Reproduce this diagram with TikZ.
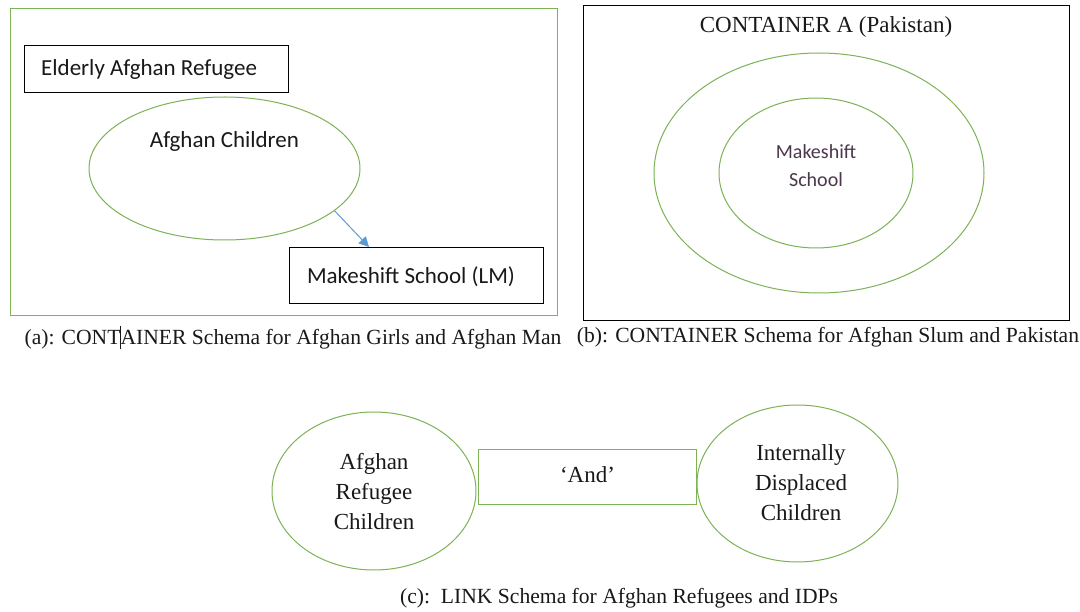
\documentclass[tikz,border=0pt]{standalone}
\usepackage{fontspec}
\setmainfont{Liberation Serif}
\newfontfamily\calib{Carlito}
\usetikzlibrary{shapes.geometric,arrows.meta,calc}
\definecolor{ogreen}{RGB}{125,178,85}
\definecolor{oblue}{RGB}{91,155,213}
\definecolor{txt}{RGB}{25,25,25}
\definecolor{plum}{RGB}{75,55,75}
\begin{document}
\begin{tikzpicture}[x=1pt,y=-1pt,
  gbox/.style={draw=ogreen,line width=1.1pt},
  kbox/.style={draw=black,line width=1.2pt},
  gell/.style={draw=ogreen,line width=1pt,ellipse,inner sep=0pt},
  sanstext/.style={font=\calib\fontsize{23}{28}\selectfont,text=txt,inner sep=0pt},
  seriftext/.style={font=\fontsize{23}{30}\selectfont,text=txt,inner sep=0pt,align=center},
  captext/.style={font=\fontsize{21.6}{25}\selectfont,text=txt,inner sep=0pt},
  link/.style={draw=oblue,line width=1pt,-{Triangle[length=10pt,width=10pt]}}]
\useasboundingbox[fill=white] (0,0) rectangle (1080,612);
% ---------- panel (a)
\node[gbox,minimum width=547pt,minimum height=307pt,anchor=north west] (pa) at (10,8) {};
\node[kbox,minimum width=264pt,minimum height=47pt,anchor=north west] (ear) at (24,45) {};
\node[sanstext,anchor=west] (eartxt) at (41,69) {Elderly Afghan Refugee};
\node[gell,minimum width=271pt,minimum height=143pt] (ac) at (224.5,168.5) {};
\node[sanstext] (actxt) at (224.5,141) {Afghan Children};
\node[kbox,minimum width=254pt,minimum height=56pt,anchor=north west] (ms) at (289,247) {};
\node[sanstext] (mstxt) at (411,277) {Makeshift School (LM)};
\draw[link] (ac.-21) -- ($(ms.north west)+(80,0)$);
\node[captext] (capa) at (293,338) {(a): CONT\makebox[0pt]{\rule[-5pt]{0.8pt}{23pt}}AINER Schema for Afghan Girls and Afghan Man};
% ---------- panel (b)
\node[kbox,minimum width=486pt,minimum height=315pt,anchor=north west] (pb) at (583,5) {};
\node[seriftext] (cta) at (826,27) {CONTAINER A (Pakistan)};
\node[gell,minimum width=330pt,minimum height=240pt] (outer) at (819,173) {};
\node[gell,minimum width=194pt,minimum height=150pt] (inner) at (816,173) {};
\node[sanstext,font=\calib\fontsize{20}{28}\selectfont,text=plum,align=center] (msb) at (816,166) {Makeshift\\School};
\node[captext] (capb) at (828,337) {(b): CONTAINER Schema for Afghan Slum and Pakistan};
% ---------- panel (c)
\node[gell,minimum width=204pt,minimum height=158pt] (arc) at (374,491) {};
\node[seriftext] (arctxt) at (374,492) {Afghan\\Refugee\\Children};
\node[gbox,minimum width=218pt,minimum height=55pt,anchor=north west] (and) at (478,449) {};
\node[seriftext] (andtxt) at ($(and.center)+(0,-2)$) {`And'};
\node[gell,minimum width=201pt,minimum height=157pt] (idp) at (797.5,483.5) {};
\node[seriftext] (idptxt) at (801,483) {Internally\\Displaced\\Children};
\node[captext,anchor=west] (capc) at (400,598) {(c):\ \ LINK Schema for Afghan Refugees and IDPs};
\end{tikzpicture}
\end{document}
